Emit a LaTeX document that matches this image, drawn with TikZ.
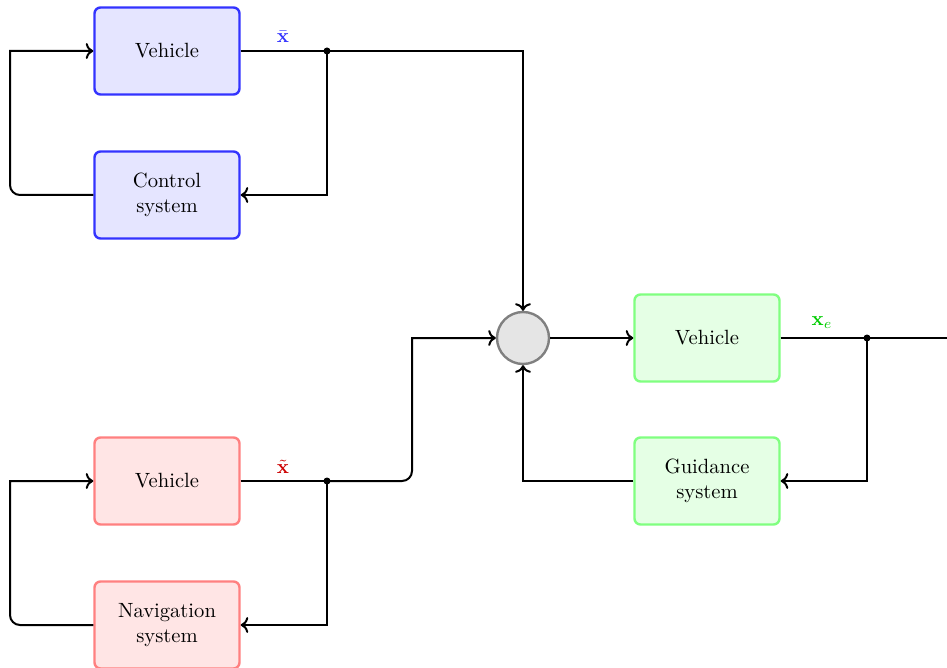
\documentclass[tikz,border=0pt]{standalone}
\usetikzlibrary{arrows.meta,calc}
\begin{document}
\begin{tikzpicture}[x=0.5pt,y=-0.5pt,
  box/.style={draw,rounded corners=3pt,line width=1.2pt,minimum width=72.5pt,minimum height=43.5pt,align=center,inner sep=2pt,font=\fontsize{10.3}{12.4}\selectfont},
  bluebox/.style={box,draw=blue!80,fill=blue!10},
  redbox/.style={box,draw=red!50,fill=red!10},
  greenbox/.style={box,draw=green!50,fill=green!10},
  sumnode/.style={circle,draw=gray,fill=gray!20,line width=1.2pt,minimum size=26pt,inner sep=0pt},
  wire/.style={line width=1pt},
  arr/.style={line width=1pt,->},
  dotn/.style={circle,fill,inner sep=0pt,minimum size=3.5pt}
]
\clip (0,0) rectangle (947,668);
\useasboundingbox (0,0) rectangle (947,668);
% nodes
\node[bluebox] (v1) at (167,51) {Vehicle};
\node[bluebox] (c1) at (167,195) {Control\\system};
\node[redbox] (v2) at (167,481) {Vehicle};
\node[redbox] (n2) at (167,625) {Navigation\\system};
\node[sumnode] (s) at (523,338) {};
\node[greenbox] (v3) at (707,338) {Vehicle};
\node[greenbox] (g3) at (707,481) {Guidance\\system};
% junctions
\node[dotn] (d1) at (327,51) {};
\node[dotn] (d2) at (327,481) {};
\node[dotn] (d3) at (867,338) {};
\coordinate (l1) at (10,195);
\coordinate (l2) at (10,625);
\coordinate (m2) at (412,481);
\coordinate (t1) at (523,51);
\coordinate (e3) at (960,338);
\coordinate (b3) at (523,481);
% labels
\node[text=blue!80] (xb) at (283,37) {$\bar{\mathbf{x}}$};
\node[text=red!80!black] (xt) at (283,467) {$\tilde{\mathbf{x}}$};
\node[text=green!80!black] (xe) at (822,323) {$\mathbf{x}_e$};
% blue loop
\draw[wire] (v1.east) -- (d1.center);
\draw[arr] (d1.center) -- (t1) -- (s.north);
\draw[arr] (d1.center) |- (c1.east);
\draw[arr] (c1.west) [rounded corners=5pt] -- (l1) [sharp corners] |- (v1.west);
% red loop
\draw[wire] (v2.east) -- (d2.center);
\draw[arr] (d2.center) [rounded corners=5pt] -- (m2) [sharp corners] |- (s.west);
\draw[arr] (d2.center) |- (n2.east);
\draw[arr] (n2.west) [rounded corners=5pt] -- (l2) [sharp corners] |- (v2.west);
% green loop
\draw[arr] (s.east) -- (v3.west);
\draw[wire] (v3.east) -- (d3.center);
\draw[arr] (d3.center) -- (e3);
\draw[arr] (d3.center) |- (g3.east);
\draw[arr] (g3.west) -- (b3) -- (s.south);
\end{tikzpicture}
\end{document}
